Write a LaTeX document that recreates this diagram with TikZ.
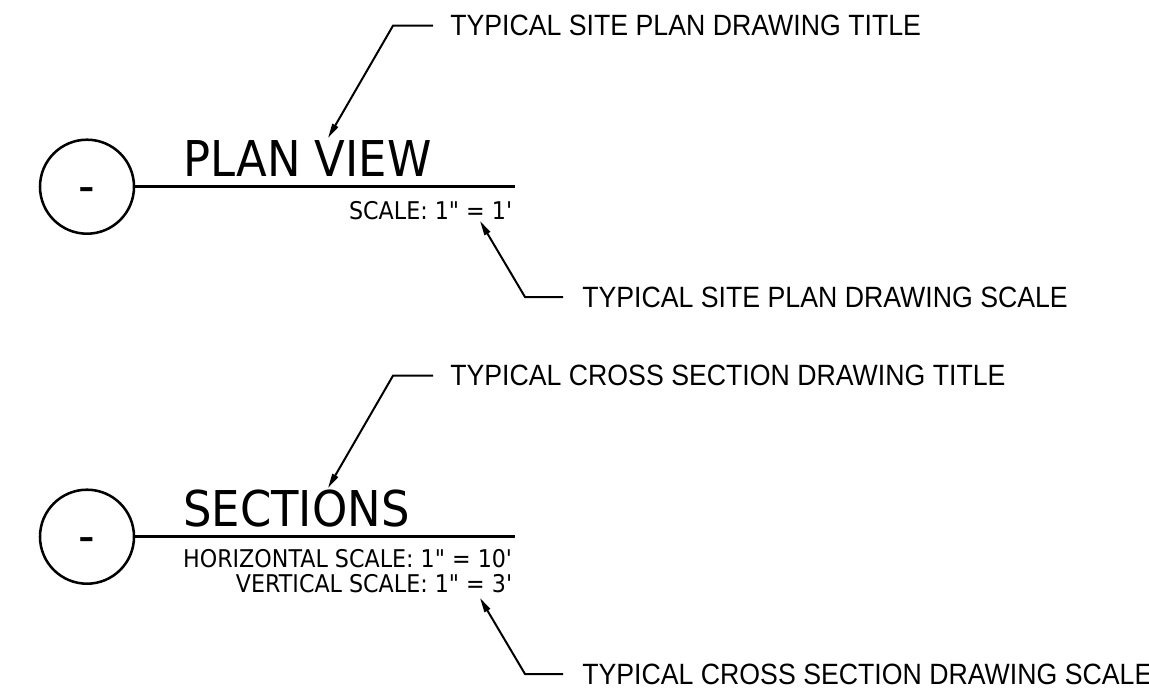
\documentclass[tikz,border=0pt]{standalone}
\usepackage{fontspec}
\setmainfont{Liberation Sans}
\newfontfamily\titleFont[FakeStretch=0.91]{DejaVu Sans}
\newfontfamily\noteFont[FakeStretch=0.91]{Liberation Sans}
\usetikzlibrary{
  arrows.meta,
  positioning,
  calc
}
\tikzset{
  viewMark/.style={
    circle,
    draw,
    line width=1.9pt,
    minimum size=70.5pt,
    inner sep=0pt,
    text height=25.5pt,
    text depth=0pt,
    font=\titleFont\fontsize{38}{38}\selectfont
  }
}
\tikzset{
  viewTitle/.style={
    anchor=base west,
    inner sep=0pt,
    font=\titleFont\fontsize{37}{37}\selectfont
  },
  scaleNote/.style={
    anchor=north east,
    inner sep=0pt,
    align=right,
    font=\titleFont\fontsize{18.3}{18.6}\selectfont
  },
  leaderText/.style={
    anchor=west,
    inner sep=0pt,
    font=\noteFont\fontsize{22}{22}\selectfont
  }
}
\tikzset{
  titleLine/.style={line width=1.9pt},
  leader/.style={
    line width=1.5pt,
    -{Triangle[length=11pt, width=4.8pt]}
  }
}
\newcommand{\ft}{\textquotesingle}

\begin{document}
\begin{tikzpicture}[x=0.75pt, y=-0.75pt]
    \useasboundingbox (0,0) rectangle (1149,697);

    \node[viewMark] (planMark) at (87,186.7) {-};
    \coordinate (planLineEnd) at (515,186.7);
    \draw[titleLine] (planMark.east) -- (planLineEnd);
    \node[viewTitle] (planTitle) at (183,176) {PLAN VIEW};
    \node[scaleNote] (planScale) at (513,201) {SCALE: 1" = 1\ft};

    \coordinate (planTitleBend) at (393,25.7);
    \coordinate (planTitleTip) at (328,138);
    \node[leaderText] (planTitleNote) at (450,25.7)
      {TYPICAL SITE PLAN DRAWING TITLE};
    \draw[leader]
      ($(planTitleNote.west)+(-17,0)$) -- (planTitleBend) -- (planTitleTip);

    \coordinate (planScaleBend) at (525,297);
    \coordinate (planScaleTip) at (480,221);
    \node[leaderText] (planScaleNote) at (582,297)
      {TYPICAL SITE PLAN DRAWING SCALE};
    \draw[leader]
      ($(planScaleNote.west)+(-19,0)$) -- (planScaleBend) -- (planScaleTip);

    \node[viewMark] (sectionMark) at (87,536.7) {-};
    \coordinate (sectionLineEnd) at (515,536.7);
    \draw[titleLine] (sectionMark.east) -- (sectionLineEnd);
    \node[viewTitle] (sectionTitle) at (183,526) {SECTIONS};
    \node[scaleNote] (sectionScale) at (513,549)
      {HORIZONTAL SCALE: 1" = 10\ft\\VERTICAL SCALE: 1" = 3\ft};

    \coordinate (sectionTitleBend) at (393,375.7);
    \coordinate (sectionTitleTip) at (328,488);
    \node[leaderText] (sectionTitleNote) at (450,375.7)
      {TYPICAL CROSS SECTION DRAWING TITLE};
    \draw[leader]
      ($(sectionTitleNote.west)+(-17,0)$) -- (sectionTitleBend) -- (sectionTitleTip);

    \coordinate (sectionScaleBend) at (525,674);
    \coordinate (sectionScaleTip) at (480,598);
    \node[leaderText] (sectionScaleNote) at (582,674)
      {TYPICAL CROSS SECTION DRAWING SCALE};
    \draw[leader]
      ($(sectionScaleNote.west)+(-19,0)$) -- (sectionScaleBend) -- (sectionScaleTip);
  \end{tikzpicture}
\end{document}
